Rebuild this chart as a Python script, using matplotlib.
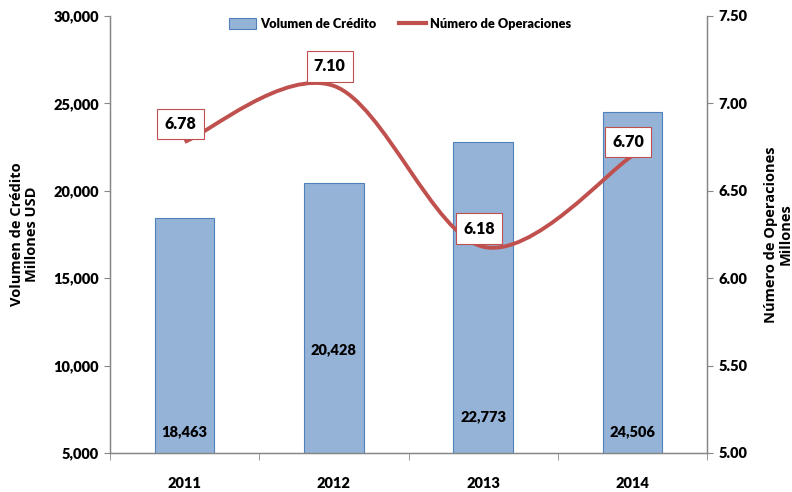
import matplotlib
matplotlib.use('Agg')
import matplotlib.pyplot as plt
from matplotlib.path import Path
from matplotlib.patches import PathPatch, Patch
from matplotlib.lines import Line2D
from matplotlib.ticker import FuncFormatter, FixedLocator

plt.rcParams['font.family'] = ['Lato', 'DejaVu Sans']
plt.rcParams['font.weight'] = 'heavy'

# Datos
years = ['2011', '2012', '2013', '2014']
credito = [18463, 20428, 22773, 24506]
operaciones = [6.78, 7.10, 6.18, 6.70]
# posicion vertical de las etiquetas de las barras (como en el original)
credito_label_y = [6200, 10900, 7100, 6200]

bar_color = '#95B3D7'
bar_edge = '#4F81BD'
line_color = '#C0504D'
axis_color = '#868686'

fig = plt.figure(figsize=(7.92, 4.92), dpi=100)
ax = fig.add_axes([110 / 792, 39 / 492, 597 / 792, 437 / 492])
ax2 = ax.twinx()

x = list(range(len(years)))
ax.bar(x, credito, width=0.4, color=bar_color, edgecolor=bar_edge, linewidth=0.8, zorder=2)
for xi, v, ly in zip(x, credito, credito_label_y):
    ax.text(xi, ly, f'{v:,}', ha='center', va='center', fontsize=10.5, zorder=5)

ax.set_xlim(-0.5, 3.5)
ax.set_ylim(5000, 30000)
ax.set_yticks(range(5000, 30001, 5000))
ax.yaxis.set_major_formatter(FuncFormatter(lambda v, p: f'{int(v):,}'))
ax.set_xticks(x)
ax.set_xticklabels(years)
ax.xaxis.set_minor_locator(FixedLocator([-0.5, 0.5, 1.5, 2.5, 3.5]))
ax.tick_params(axis='x', which='major', length=0, pad=17, labelsize=10.5)
ax.tick_params(axis='x', which='minor', length=5, color=axis_color, direction='out')
ax.tick_params(axis='y', length=4, color=axis_color, labelsize=10.5, pad=4)

# Linea suavizada (curvas Bezier estilo Excel)
verts = [(x[0], operaciones[0])]
codes = [Path.MOVETO]
n = len(x)
for i in range(n - 1):
    p0 = (x[max(i - 1, 0)], operaciones[max(i - 1, 0)])
    p1 = (x[i], operaciones[i])
    p2 = (x[i + 1], operaciones[i + 1])
    p3 = (x[min(i + 2, n - 1)], operaciones[min(i + 2, n - 1)])
    c1 = (p1[0] + (p2[0] - p0[0]) / 6, p1[1] + (p2[1] - p0[1]) / 6)
    c2 = (p2[0] - (p3[0] - p1[0]) / 6, p2[1] - (p3[1] - p1[1]) / 6)
    verts += [c1, c2, p2]
    codes += [Path.CURVE4] * 3
ax2.add_patch(PathPatch(Path(verts, codes), facecolor='none', edgecolor=line_color,
                        linewidth=2.8, capstyle='butt', zorder=3))
ax2.set_ylim(5.0, 7.5)
ax2.set_yticks([5.0, 5.5, 6.0, 6.5, 7.0, 7.5])
ax2.yaxis.set_major_formatter(FuncFormatter(lambda v, p: f'{v:.2f}'))
ax2.tick_params(axis='y', length=4, color=axis_color, labelsize=10.5, pad=4)

label_dy = [13, 14, 13, 10]
for xi, v, dy in zip(x, operaciones, label_dy):
    ax2.annotate(f'{v:.2f}', (xi, v), xytext=(-3, dy), textcoords='offset points',
                 ha='center', va='center', fontsize=11.5, zorder=6,
                 bbox=dict(boxstyle='square,pad=0.45', facecolor='white',
                           edgecolor=line_color, linewidth=0.8))

for a in (ax, ax2):
    a.spines['top'].set_visible(False)
    for s in ('left', 'right', 'bottom'):
        a.spines[s].set_color(axis_color)
        a.spines[s].set_linewidth(0.9)

ax.set_ylabel('Volumen de Crédito\nMillones USD', fontsize=10.5, fontweight='bold',
              family=['Open Sans', 'DejaVu Sans'], labelpad=10, linespacing=1.1)
ax2.set_ylabel('Número de Operaciones\nMillones', fontsize=10.5, fontweight='bold',
               family=['Open Sans', 'DejaVu Sans'], rotation=90, labelpad=12,
               linespacing=1.1)

handles = [Patch(facecolor=bar_color, edgecolor=bar_edge, linewidth=0.8),
           Line2D([], [], color=line_color, linewidth=3)]
fig.legend(handles, ['Volumen de Crédito', 'Número de Operaciones'],
           loc='center', bbox_to_anchor=(400 / 792, 1 - 24 / 492), ncol=2, frameon=False,
           fontsize=9.2, handlelength=2.1, handleheight=0.9, columnspacing=1.8,
           handletextpad=0.3)

fig.savefig('out.png', dpi=100)
